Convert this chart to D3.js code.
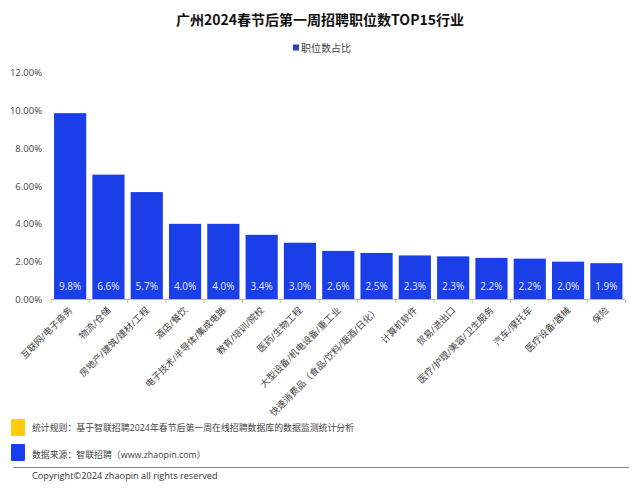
<!DOCTYPE html>
<html>
<head>
<meta charset="utf-8">
<script src="https://cdn.jsdelivr.net/npm/d3@7.9.0/dist/d3.min.js"></script>
<style>
  html, body { margin: 0; padding: 0; background: #fff; }
  svg { display: block; font-family: "Open Sans", "Noto Sans CJK SC", sans-serif; }
</style>
</head>
<body>
<svg id="chart" width="640" height="504"></svg>
<script>
const industries = ['互联网/电子商务', '物流/仓储', '房地产/建筑/建材/工程', '酒店/餐饮', '电子技术/半导体/集成电路',
  '教育/培训/院校', '医药/生物工程', '大型设备/机电设备/重工业', '快速消费品（食品/饮料/烟酒/日化）', '计算机软件',
  '贸易/进出口', '医疗/护理/美容/卫生服务', '汽车/摩托车', '医疗设备/器械', '保险'];
const shares = [9.85, 6.6, 5.68, 4.0, 4.0, 3.42, 3.0, 2.57, 2.46, 2.33, 2.28, 2.2, 2.16, 2.0, 1.92];
const shareLabels = ['9.8%', '6.6%', '5.7%', '4.0%', '4.0%', '3.4%', '3.0%', '2.6%', '2.5%', '2.3%', '2.3%', '2.2%', '2.2%', '2.0%', '1.9%'];
const yTicks = [0, 2, 4, 6, 8, 10, 12];

const svg = d3.select('#chart');
const blue = '#1a3fe8';

const x = d3.scaleBand().domain(industries).range([51, 625.5]).paddingInner(0.16).paddingOuter(0.08);
const y = d3.scaleLinear().domain([0, 12]).range([299.5, 72.5]);

svg.append('text').attr('x', 320).attr('y', 25).attr('text-anchor', 'middle')
  .attr('font-family', '"Noto Sans CJK SC", sans-serif')
  .attr('font-size', 14).attr('font-weight', 700).attr('fill', '#111')
  .text('广州2024春节后第一周招聘职位数TOP15行业');

// legend
svg.append('rect').attr('x', 293).attr('y', 44.5).attr('width', 6).attr('height', 6).attr('fill', '#2446c8');
svg.append('text').attr('x', 301).attr('y', 52).attr('font-size', 10).attr('fill', '#444').text('职位数占比');

// y axis labels only, no line
svg.append('g').selectAll('text').data(yTicks).join('text')
  .attr('x', 42).attr('y', d => y(d) + 0.5).attr('dy', '0.32em').attr('text-anchor', 'end')
  .attr('font-size', 9.5).attr('fill', '#444')
  .text(d => d3.format('.2f')(d) + '%');

svg.append('g').selectAll('rect').data(shares).join('rect')
  .attr('x', (d, i) => x(industries[i])).attr('y', d => y(d))
  .attr('width', x.bandwidth()).attr('height', d => y(0) - y(d))
  .attr('fill', blue);

svg.append('g').selectAll('text').data(shares).join('text')
  .attr('x', (d, i) => x(industries[i]) + x.bandwidth() / 2).attr('y', 287)
  .attr('dy', '0.32em').attr('text-anchor', 'middle')
  .attr('font-size', 10).attr('fill', '#e8ecff')
  .text((d, i) => shareLabels[i]);

// x axis line with tick marks at band edges
const step = x.step();
const edges = d3.range(industries.length + 1).map(i => 51 + i * step);
svg.append('line').attr('x1', 51).attr('x2', 625.5).attr('y1', 299.5).attr('y2', 299.5).attr('stroke', '#bbb');
svg.append('g').selectAll('line').data(edges).join('line')
  .attr('x1', d => d).attr('x2', d => d).attr('y1', 299.5).attr('y2', 303).attr('stroke', '#bbb');

svg.append('g').selectAll('text').data(industries).join('text')
  .attr('text-anchor', 'end').attr('font-size', 9.3).attr('fill', '#444')
  .attr('transform', d => `translate(${x(d) + x.bandwidth() / 2 + 3},${311}) rotate(-45)`)
  .text(d => d);

// footer
svg.append('rect').attr('x', 11).attr('y', 419).attr('width', 14).attr('height', 17).attr('rx', 1).attr('fill', '#ffcc0a');
svg.append('rect').attr('x', 11).attr('y', 444).attr('width', 14).attr('height', 17).attr('rx', 1).attr('fill', '#1a3ff0');
svg.append('text').attr('x', 32).attr('y', 431).attr('font-size', 8.9).attr('fill', '#444')
  .text('统计规则：基于智联招聘2024年春节后第一周在线招聘数据库的数据监测统计分析');
svg.append('text').attr('x', 32).attr('y', 458).attr('font-size', 8.9).attr('fill', '#444')
  .text('数据来源：智联招聘（www.zhaopin.com）');
svg.append('line').attr('x1', 13).attr('x2', 629).attr('y1', 467.5).attr('y2', 467.5).attr('stroke', '#888');
svg.append('text').attr('x', 32).attr('y', 479).attr('font-size', 9.2).attr('fill', '#333')
  .text('Copyright©2024 zhaopin all rights reserved');
</script>
</body>
</html>
